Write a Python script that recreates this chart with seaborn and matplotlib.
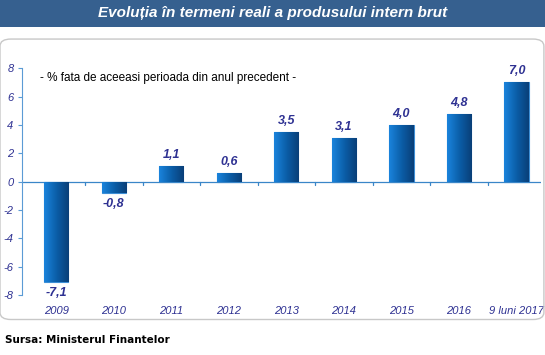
import numpy as np
import pandas as pd
import seaborn as sns
from matplotlib import pyplot as plt
from matplotlib.patches import FancyBboxPatch, Rectangle

years = ["2009", "2010", "2011", "2012", "2013", "2014", "2015", "2016", "9 luni 2017"]
growth = [-7.1, -0.8, 1.1, 0.6, 3.5, 3.1, 4.0, 4.8, 7.0]
value_labels = ["-7,1", "-0,8", "1,1", "0,6", "3,5", "3,1", "4,0", "4,8", "7,0"]
y_ticks = [-8, -6, -4, -2, 0, 2, 4, 6, 8]

df = pd.DataFrame({"an": years, "crestere": growth})

navy = "#2e3192"
axis_blue = "#5b9bd5"

sns.set_style("white")
plt.rcParams["font.family"] = ["DejaVu Sans"]

fig = plt.figure(figsize=(5.45, 3.55), dpi=100)

# banner + frame
fig.patches.append(Rectangle((0, 0.924), 1, 0.076, transform=fig.transFigure,
                             facecolor="#36608f", edgecolor="none"))
fig.text(0.5, 0.962, "Evoluția în termeni reali a produsului intern brut",
         color="white", fontsize=11, fontweight="bold", style="italic",
         ha="center", va="center", family="Liberation Sans")
fig.patches.append(FancyBboxPatch((0.0, 0.10), 0.998, 0.79, transform=fig.transFigure,
                                  boxstyle="round,pad=0,rounding_size=0.02",
                                  facecolor="none", edgecolor="#c8c8c8", lw=1))

ax = fig.add_axes([0.04, 0.169, 0.952, 0.639])
sns.barplot(data=df, x="an", y="crestere", color="#0a6ab8", width=0.42, ax=ax,
            saturation=1, edgecolor="#3d8fd6", linewidth=0.8)

# gradient fill on bars
grad = np.linspace(0, 1, 64).reshape(1, -1)
cmap = sns.blend_palette(["#1a84dc", "#0b5ea8", "#093f78"], as_cmap=True)
for p in ax.patches:
    x0, y0 = p.get_x(), p.get_y()
    w, h = p.get_width(), p.get_height()
    im = ax.imshow(grad, extent=[x0, x0 + w, min(y0, y0 + h), max(y0, y0 + h)],
                   aspect="auto", cmap=cmap, zorder=p.get_zorder() + 0.1)
    im.set_clip_path(p)

for i, (v, lab) in enumerate(zip(growth, value_labels)):
    off = 0.35 if v >= 0 else -0.35
    ax.text(i, v + off, lab, ha="center", va="bottom" if v >= 0 else "top",
            color=navy, fontsize=9, fontweight="bold", style="italic",
            family="Liberation Sans")

ax.set_xlim(-0.6, 8.42)
ax.set_ylim(-8, 8)
ax.set_yticks(y_ticks)
ax.set_yticklabels([str(t) for t in y_ticks], color=navy, style="italic",
                   fontsize=8, family="Liberation Sans")
ax.set_xticks(range(len(years)))
ax.set_xticklabels(years, color=navy, style="italic", fontsize=8,
                   family="Liberation Sans")
ax.tick_params(axis="x", length=0, pad=8)
ax.tick_params(axis="y", length=3, color=axis_blue, direction="out", pad=3, left=True)
ax.set_xlabel("")
ax.set_ylabel("")
for s in ["top", "right", "bottom"]:
    ax.spines[s].set_visible(False)
ax.spines["left"].set_color(axis_blue)
ax.spines["left"].set_linewidth(0.8)

# zero line with category separators
ax.axhline(0, color="#3a86c8", lw=0.9, zorder=1)
for k in range(len(years)):
    ax.plot([k + 0.5, k + 0.5], [0, -0.25], color="#3a86c8", lw=0.9, zorder=1)

ax.text(0.035, 0.985, "- % fata de aceeasi perioada din anul precedent -",
        transform=ax.transAxes, fontsize=8.5, color="black", va="top",
        family="Liberation Sans")

fig.text(0.01, 0.035, "Sursa: Ministerul Finantelor", fontsize=7.5,
         fontweight="bold", color="black", family="DejaVu Sans")

fig.savefig("out.png", dpi=100)
